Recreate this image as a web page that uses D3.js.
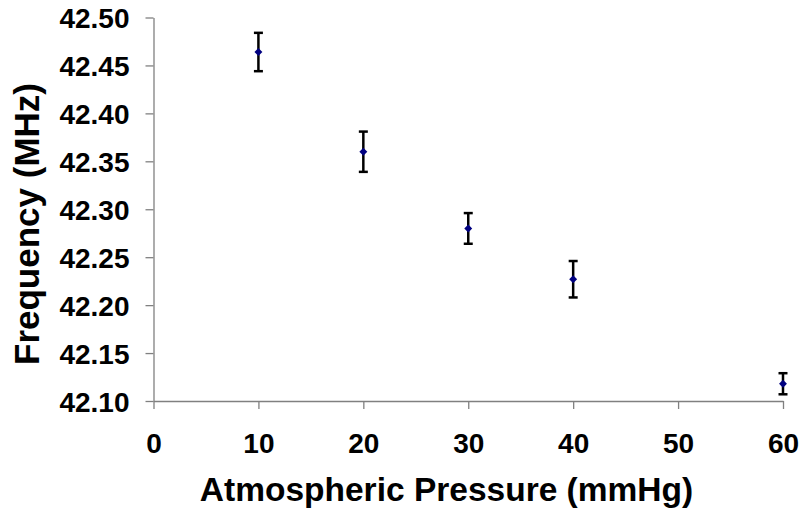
<!DOCTYPE html>
<html>
<head>
<meta charset="utf-8">
<script src="https://cdn.jsdelivr.net/npm/d3@7"></script>
<style>
  body { margin: 0; background: #fff; }
  svg text { font-family: "Liberation Sans", Arial, sans-serif; font-weight: bold; fill: #000; }
</style>
</head>
<body>
<div class="container"></div>
<script>
// data
const pressure = [10, 20, 30, 40, 60];
const freq = [42.464, 42.360, 42.280, 42.227, 42.118];
const errs = [0.020, 0.021, 0.016, 0.019, 0.011];
const xTicks = [0, 10, 20, 30, 40, 50, 60];
const yTicks = [42.10, 42.15, 42.20, 42.25, 42.30, 42.35, 42.40, 42.45, 42.50];

const width = 801;
const height = 516;
const mLeft = 153.5, mRight = 783, mTop = 17.5, mBottom = 401;

const svg = d3.select("div.container")
  .append("svg")
  .attr("width", width)
  .attr("height", height);

const xScale = d3.scaleLinear().domain([0, 60]).range([mLeft, mRight]);
const yScale = d3.scaleLinear().domain([42.10, 42.50]).range([mBottom, mTop]);

const xAxis = d3.axisBottom(xScale).tickValues(xTicks).tickSizeInner(8).tickSizeOuter(0).tickPadding(13).tickFormat(d3.format("d"));
const yAxis = d3.axisLeft(yScale).tickValues(yTicks).tickSizeInner(8).tickSizeOuter(0).tickPadding(16).tickFormat(d3.format(".2f"));

const gx = svg.append("g").attr("transform", `translate(0,${mBottom})`).call(xAxis);
const gy = svg.append("g").attr("transform", `translate(${mLeft},0)`).call(yAxis);

[gx, gy].forEach(g => {
  g.attr("font-family", null).attr("font-size", null);
  g.select(".domain").attr("stroke", "#808080").attr("stroke-width", 1.3);
  g.selectAll(".tick line").attr("stroke", "#808080").attr("stroke-width", 1.3);
  g.selectAll(".tick text").attr("font-size", 28).attr("fill", "#000");
});
gx.selectAll(".tick text").attr("dy", "1.12em");
gy.selectAll(".tick text").attr("dy", "0.36em");

// error bars
const cap = 4.5;
const bars = svg.append("g").attr("stroke", "#000").attr("stroke-width", 2.5).attr("fill", "none");
pressure.forEach((p, i) => {
  const x = xScale(p);
  const y1 = yScale(freq[i] + errs[i]);
  const y2 = yScale(freq[i] - errs[i]);
  bars.append("line").attr("x1", x).attr("x2", x).attr("y1", y1).attr("y2", y2);
  bars.append("line").attr("x1", x - cap).attr("x2", x + cap).attr("y1", y1).attr("y2", y1);
  bars.append("line").attr("x1", x - cap).attr("x2", x + cap).attr("y1", y2).attr("y2", y2);
});

// markers
svg.selectAll("path.pt").data(pressure).enter().append("path")
  .attr("class", "pt")
  .attr("d", d3.symbol(d3.symbolDiamond2, 40)())
  .attr("transform", (d, i) => `translate(${xScale(d)},${yScale(freq[i])})`)
  .attr("fill", "#000080");

// axis titles
svg.append("text")
  .attr("x", (200 + 693) / 2)
  .attr("y", 501)
  .attr("text-anchor", "middle")
  .attr("font-size", 33.5)
  .text("Atmospheric Pressure (mmHg)");

svg.append("text")
  .attr("transform", "translate(39,224) rotate(-90)")
  .attr("text-anchor", "middle")
  .attr("font-size", 35)
  .text("Frequency (MHz)");
</script>
</body>
</html>
